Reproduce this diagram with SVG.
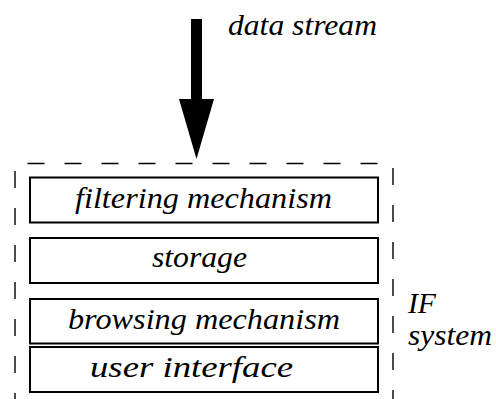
<svg xmlns="http://www.w3.org/2000/svg" width="496" height="399" viewBox="0 0 496 399">
<defs>
<style>
.box{fill:#fff;stroke:#000;stroke-width:2}
.dash{fill:none;stroke:#000;stroke-width:1.4;stroke-dasharray:17 20}
</style>
</defs>
<rect width="496" height="399" fill="#fff"/>
<g id="container">
<path class="dash" d="M15,410 V163.5 H393 V410"/>
<text x="408" y="313" font-family="'Liberation Serif', serif" font-style="italic" font-size="30" textLength="28" lengthAdjust="spacingAndGlyphs">IF</text>
<text x="408" y="345" font-family="'Liberation Serif', serif" font-style="italic" font-size="30" textLength="84" lengthAdjust="spacingAndGlyphs">system</text>
</g>
<g id="connectors">
<path d="M191,19 H202 V99 H214 L196.5,159 L179,99 H191 Z" fill="#000"/>
</g>
<g id="label">
<text x="228" y="35" font-family="'Liberation Serif', serif" font-style="italic" font-size="30" textLength="149" lengthAdjust="spacingAndGlyphs">data stream</text>
</g>
<g id="filtering">
<rect class="box" x="30" y="177.5" width="348" height="45"/>
<text x="75" y="208" font-family="'Liberation Serif', serif" font-style="italic" font-size="30" textLength="257" lengthAdjust="spacingAndGlyphs">filtering mechanism</text>
</g>
<g id="storage">
<rect class="box" x="30" y="238" width="348" height="45"/>
<text x="152" y="267" font-family="'Liberation Serif', serif" font-style="italic" font-size="30" textLength="95" lengthAdjust="spacingAndGlyphs">storage</text>
</g>
<g id="browsing">
<rect class="box" x="30" y="299" width="348" height="44.5"/>
<text x="68" y="328.5" font-family="'Liberation Serif', serif" font-style="italic" font-size="30" textLength="272" lengthAdjust="spacingAndGlyphs">browsing mechanism</text>
</g>
<g id="ui">
<rect class="box" x="30" y="347" width="348" height="45"/>
<text x="90" y="377" font-family="'Liberation Serif', serif" font-style="italic" font-size="30" textLength="203" lengthAdjust="spacingAndGlyphs">user interface</text>
</g>
</svg>
